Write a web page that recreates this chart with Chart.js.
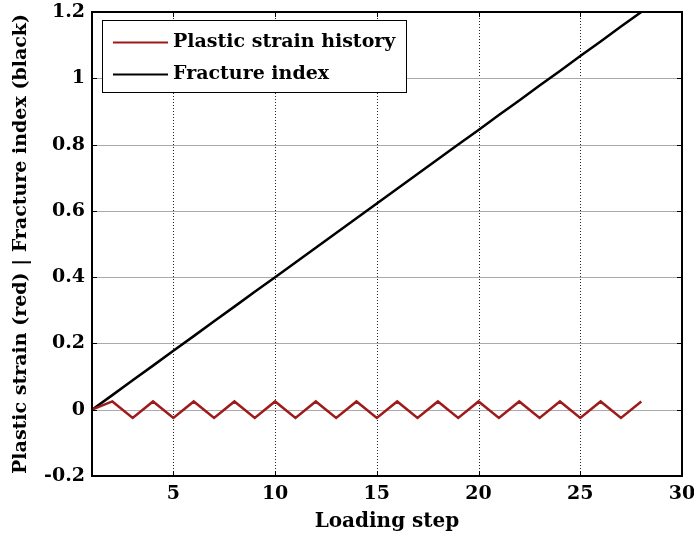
<!DOCTYPE html>
<html>
<head>
<meta charset="utf-8">
<script src="https://cdn.jsdelivr.net/npm/chart.js@4.4.1/dist/chart.umd.min.js"></script>
<style>
html,body{margin:0;padding:0;background:#fff;}
#wrap{width:694px;height:541px;position:relative;}
</style>
</head>
<body>
<div id="wrap"><canvas id="c" width="694" height="541"></canvas></div>
<script>
const loadingSteps = [1,2,3,4,5,6,7,8,9,10,11,12,13,14,15,16,17,18,19,20,21,22,23,24,25,26,27,28];
const plasticStrain = [0,0.025,-0.025,0.025,-0.025,0.025,-0.025,0.025,-0.025,0.025,-0.025,0.025,-0.025,0.025,-0.025,0.025,-0.025,0.025,-0.025,0.025,-0.025,0.025,-0.025,0.025,-0.025,0.025,-0.025,0.025];
const fractureIndex = [0,0.044,0.089,0.133,0.178,0.222,0.267,0.311,0.356,0.4,0.444,0.489,0.533,0.578,0.622,0.667,0.711,0.756,0.8,0.844,0.889,0.933,0.978,1.022,1.067,1.111,1.156,1.2];
const xTicks = [5,10,15,20,25,30];
const yTicks = [-0.2,0,0.2,0.4,0.6,0.8,1,1.2];
const seriesNames = ['Plastic strain history','Fracture index'];
const xTitle = 'Loading step';
const yTitle = 'Plastic strain (red) | Fracture index (black)';

const FONT = '"DejaVu Serif", "Liberation Serif", serif';

const framePlugin = {
  id: 'frame',
  beforeDatasetsDraw(chart) {
    const {ctx, chartArea: a, scales: {x, y}} = chart;
    ctx.save();
    ctx.strokeStyle = '#222';
    ctx.lineWidth = 1;
    ctx.setLineDash([1, 2]);
    xTicks.forEach(v => {
      const px = Math.round(x.getPixelForValue(v)) + 0.5;
      if (px > a.left + 1 && px < a.right - 1) {
        ctx.beginPath(); ctx.moveTo(px, a.top); ctx.lineTo(px, a.bottom); ctx.stroke();
      }
    });
    ctx.strokeStyle = '#aaa';
    ctx.setLineDash([]);
    yTicks.forEach(v => {
      const py = Math.round(y.getPixelForValue(v)) + 0.5;
      if (py > a.top + 1 && py < a.bottom - 1) {
        ctx.beginPath(); ctx.moveTo(a.left, py); ctx.lineTo(a.right, py); ctx.stroke();
      }
    });
    ctx.restore();
  },
  afterDatasetsDraw(chart) {
    const {ctx, chartArea: a, scales: {x, y}} = chart;
    ctx.save();
    ctx.strokeStyle = '#000';
    ctx.lineWidth = 2;
    ctx.strokeRect(a.left, a.top, a.right - a.left, a.bottom - a.top);
    ctx.lineWidth = 1;
    const tl = 5;
    xTicks.forEach(v => {
      const px = Math.round(x.getPixelForValue(v)) + 0.5;
      ctx.beginPath(); ctx.moveTo(px, a.bottom); ctx.lineTo(px, a.bottom - tl); ctx.stroke();
      ctx.beginPath(); ctx.moveTo(px, a.top); ctx.lineTo(px, a.top + tl); ctx.stroke();
    });
    yTicks.forEach(v => {
      const py = Math.round(y.getPixelForValue(v)) + 0.5;
      ctx.beginPath(); ctx.moveTo(a.left, py); ctx.lineTo(a.left + tl, py); ctx.stroke();
      ctx.beginPath(); ctx.moveTo(a.right, py); ctx.lineTo(a.right - tl, py); ctx.stroke();
    });
    const bx = 102, by = 20, bw = 304, bh = 72;
    ctx.fillStyle = '#fff';
    ctx.fillRect(bx, by, bw, bh);
    ctx.strokeStyle = '#000';
    ctx.lineWidth = 1;
    ctx.strokeRect(bx + 0.5, by + 0.5, bw, bh);
    ctx.font = 'bold 19px ' + FONT;
    ctx.textBaseline = 'middle';
    ctx.textAlign = 'left';
    chart.data.datasets.forEach((ds, i) => {
      const cy = by + 22 + i * 32;
      ctx.strokeStyle = ds.borderColor;
      ctx.lineWidth = 2;
      ctx.beginPath(); ctx.moveTo(113, cy + 0.5); ctx.lineTo(168, cy + 0.5); ctx.stroke();
      ctx.fillStyle = '#000';
      ctx.fillText(ds.label, 173, cy);
    });
    ctx.restore();
  }
};

new Chart(document.getElementById('c'), {
  type: 'line',
  data: {
    labels: loadingSteps,
    datasets: [
      {label: seriesNames[0], data: loadingSteps.map((s,i)=>({x:s,y:plasticStrain[i]})), borderColor: '#9e1b1b', borderWidth: 2.5, pointRadius: 0, tension: 0, fill: false},
      {label: seriesNames[1], data: loadingSteps.map((s,i)=>({x:s,y:fractureIndex[i]})), borderColor: '#000000', borderWidth: 2.5, pointRadius: 0, tension: 0, fill: false}
    ]
  },
  options: {
    responsive: false,
    animation: false,
    layout: {padding: {top: 12, right: 12, left: 0, bottom: 0}},
    plugins: {legend: {display: false}, tooltip: {enabled: false}},
    scales: {
      x: {
        type: 'linear', min: 1, max: 30,
        afterBuildTicks: s => { s.ticks = xTicks.map(v => ({value: v})); },
        afterFit: s => { s.height = 65; s.paddingLeft = 0; s.paddingRight = 0; },
        grid: {display: false, drawTicks: false},
        border: {display: false},
        ticks: {padding: 7, color: '#000', font: {family: FONT, size: 19, weight: 'bold'}, maxRotation: 0, autoSkip: false},
        title: {display: true, text: xTitle, color: '#000', padding: {top: 0, bottom: 7}, font: {family: FONT, size: 20, weight: 'bold'}}
      },
      y: {
        type: 'linear', min: -0.2, max: 1.2,
        afterBuildTicks: s => { s.ticks = yTicks.map(v => ({value: v})); },
        afterFit: s => { s.width = 92; s.paddingTop = 0; s.paddingBottom = 0; },
        grid: {display: false, drawTicks: false},
        border: {display: false},
        ticks: {padding: 7, color: '#000', font: {family: FONT, size: 19, weight: 'bold'}, autoSkip: false,
          callback: v => String(Math.round(v * 10) / 10)},
        title: {display: true, text: yTitle, color: '#000', padding: {top: 10, bottom: 0}, font: {family: FONT, size: 19, weight: 'bold'}}
      }
    }
  },
  plugins: [framePlugin]
});
</script>
</body>
</html>
